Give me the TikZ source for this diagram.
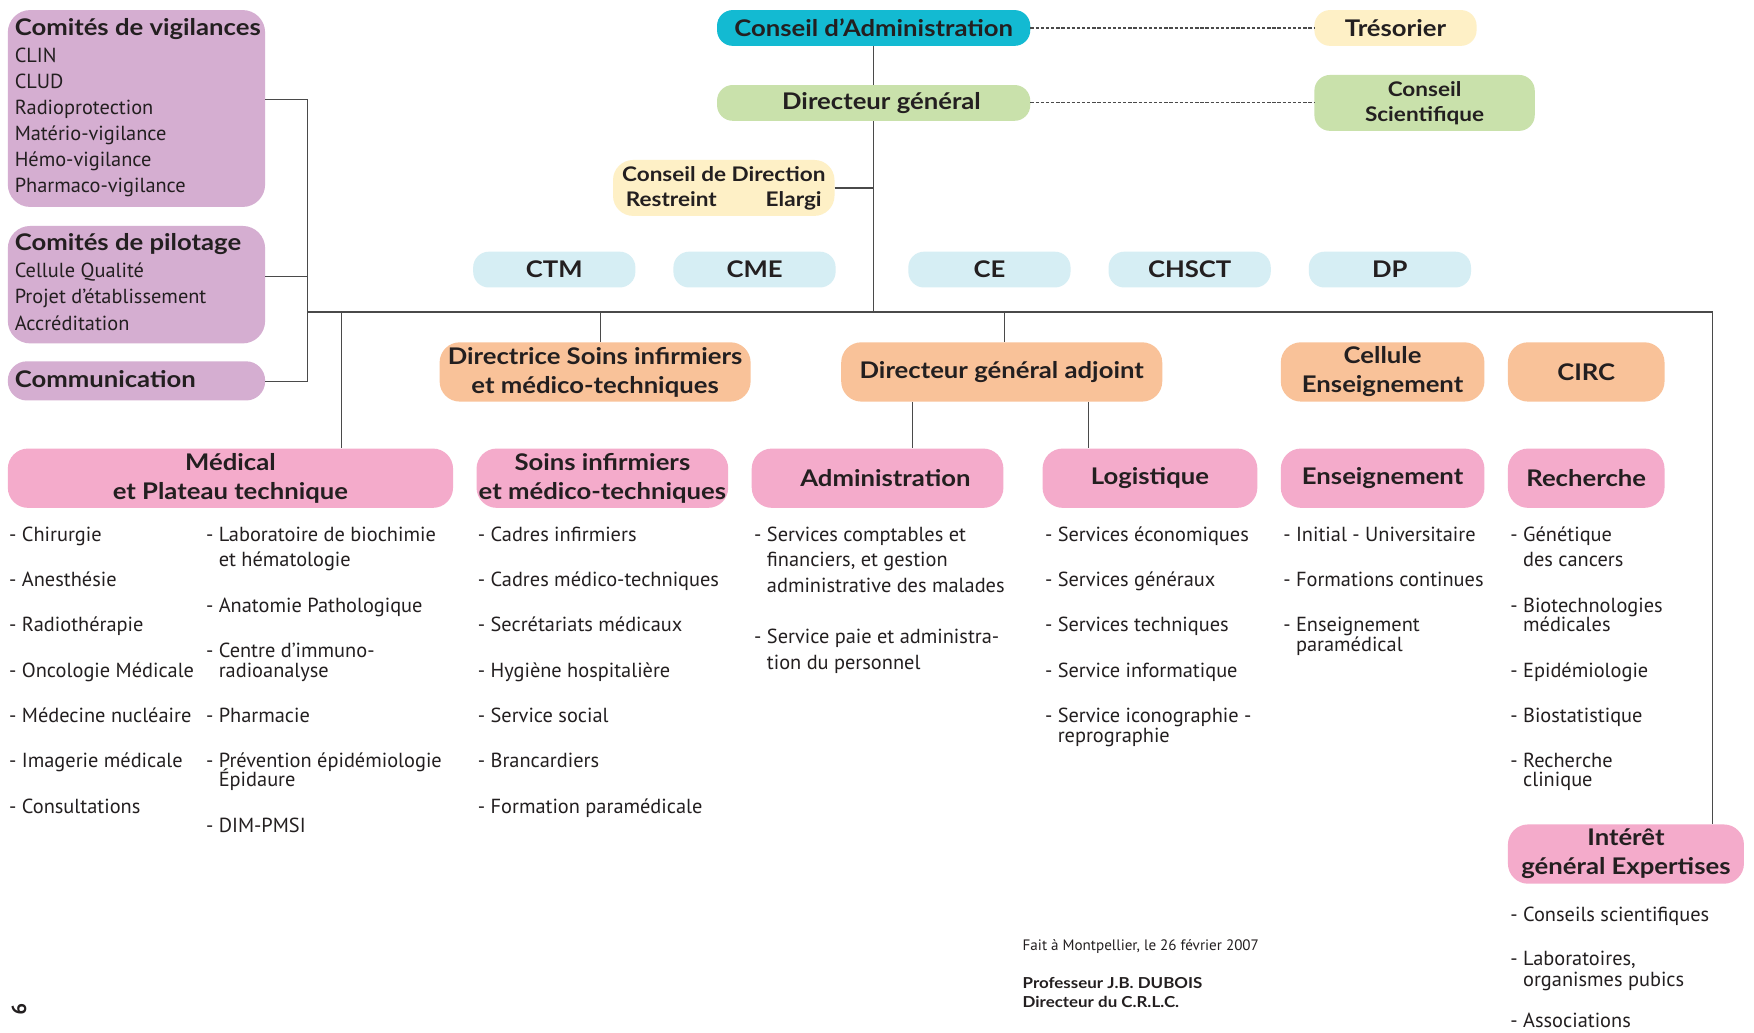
\documentclass[tikz,border=0pt]{standalone}
\usepackage{fontspec}
\setmainfont{PT Sans}
\newfontfamily\boldfam{Lato}[FakeStretch=1.12]
\definecolor{txt}{HTML}{231F20}
\definecolor{cyanbox}{HTML}{13BAD2}
\definecolor{yellowbox}{HTML}{FEF0C6}
\definecolor{greenbox}{HTML}{C9E1AB}
\definecolor{bluebox}{HTML}{D6EEF4}
\definecolor{orangebox}{HTML}{F9C299}
\definecolor{pinkbox}{HTML}{F4ABCB}
\definecolor{mauvebox}{HTML}{D5AED1}
\definecolor{linecol}{HTML}{4A4A4A}
\newcommand\mytitle{\boldfam\fontsize{20.5}{26}\selectfont\bfseries}
\newcommand\mysub{\boldfam\fontsize{18}{22.5}\selectfont\bfseries}
\newcommand\mybody{\fontsize{18.2}{22}\selectfont}
\newcommand\mysmall{\fontsize{13.5}{15}\selectfont}
\newcommand\mysmallbf{\boldfam\fontsize{13.5}{16}\selectfont\bfseries}
\newcommand\contind{\phantom{- }}
\tikzset{
  box/.style={rectangle, rounded corners=14pt, inner sep=0pt, align=center, text=txt, font=\mytitle},
  bigbox/.style={box, rounded corners=18pt, minimum height=53pt},
  smallbox/.style={box, minimum height=32pt},
  mauve/.style={rectangle, rounded corners=20pt, fill=mauvebox, minimum width=230pt, inner sep=0pt},
  item/.style={anchor=mid west, inner sep=0pt, font=\mybody, text=txt, yshift=-4pt},
  mtitle/.style={anchor=mid west, inner sep=0pt, font=\mytitle, text=txt, yshift=-4pt},
  foot/.style={anchor=mid west, inner sep=0pt, text=txt, yshift=-3pt},
  conn/.style={draw=linecol, line width=1.2pt},
  dotline/.style={draw=linecol, line width=1pt, dash pattern=on 3pt off 1.6pt},
}
\begin{document}
\begin{tikzpicture}[x=1pt,y=-1pt]
\useasboundingbox (0,0) rectangle (1568,922.6);
\fill[white] (0,0) rectangle (1568,922.6);

% left mauve boxes
\node[mauve, minimum height=176pt] (comvig) at (122,97) {};
\node[mauve, minimum height=105pt] (compil) at (122,254.5) {};
\node[mauve, minimum height=35pt, rounded corners=17pt] (comm) at (122,340.5) {};
\node[mtitle] (v0) at (13,25) {Comités de vigilances};
\node[item] (v1) at (13,49) {CLIN};
\node[item] (v2) at (13,73) {CLUD};
\node[item] (v3) at (13,96) {Radioprotection};
\node[item] (v4) at (13,119) {Matério-vigilance};
\node[item] (v5) at (13,142) {Hémo-vigilance};
\node[item] (v6) at (13,166) {Pharmaco-vigilance};
\node[mtitle] (p0) at (13,217) {Comités de pilotage};
\node[item] (p1) at (13,242) {Cellule Qualité};
\node[item] (p2) at (13,265) {Projet d'établissement};
\node[item] (p3) at (13,289) {Accréditation};
\node[mtitle] (c0) at (13,340) {Communication};

% top
\node[smallbox, fill=cyanbox, minimum width=280pt] (ca) at (781,25) {Conseil d’Administration};
\node[smallbox, fill=yellowbox, minimum width=145pt] (tres) at (1247.5,25) {Trésorier};
\node[smallbox, fill=greenbox, minimum width=280pt] (dg) at (781,92) {\hspace*{14pt}Directeur général};
\node[box, fill=greenbox, minimum width=197pt, minimum height=50pt, font=\mysub] (cs) at (1273.5,92) {Conseil\\Scientifique};
\node[box, fill=yellowbox, minimum width=198pt, minimum height=50pt, rounded corners=18pt, font=\mysub] (cd) at (647,168) {Conseil de Direction\\\makebox[175pt]{Restreint\hfill Elargi}};

% committees
\node[smallbox, fill=bluebox, minimum width=145pt] (ctm) at (495.5,241) {CTM};
\node[smallbox, fill=bluebox, minimum width=145pt] (cme) at (674.5,241) {CME};
\node[smallbox, fill=bluebox, minimum width=145pt] (ce) at (884.5,241) {CE};
\node[smallbox, fill=bluebox, minimum width=145pt] (chsct) at (1063.5,241) {CHSCT};
\node[smallbox, fill=bluebox, minimum width=145pt] (dp) at (1242.5,241) {DP};

% orange row
\node[bigbox, fill=orangebox, minimum width=278pt] (directrice) at (532,332.5) {Directrice Soins infirmiers\\et médico-techniques};
\node[bigbox, fill=orangebox, minimum width=287pt] (dga) at (895.5,332.5) {Directeur général adjoint};
\node[bigbox, fill=orangebox, minimum width=182pt] (cellule) at (1236,332.5) {Cellule\\Enseignement};
\node[bigbox, fill=orangebox, minimum width=140pt] (circ) at (1418,332.5) {CIRC};

% pink row
\node[bigbox, fill=pinkbox, minimum width=398pt] (medical) at (206,427.5) {Médical\\et Plateau technique};
\node[bigbox, fill=pinkbox, minimum width=225pt] (soins) at (538.5,427.5) {Soins infirmiers\\et médico-techniques};
\node[bigbox, fill=pinkbox, minimum width=225pt] (admin) at (784.5,427.5) {\hspace*{14pt}Administration};
\node[bigbox, fill=pinkbox, minimum width=192pt] (logis) at (1028,427.5) {Logistique};
\node[bigbox, fill=pinkbox, minimum width=182pt] (enseig) at (1236,427.5) {Enseignement};
\node[bigbox, fill=pinkbox, minimum width=140pt] (rech) at (1418,427.5) {Recherche};
\node[bigbox, fill=pinkbox, minimum width=211pt] (interet) at (1453.5,763.5) {Intérêt\\général Expertises};

% connectors
\coordinate (jmain) at (781,279);
\coordinate (jl) at (275,279);
\coordinate (jr) at (1531,279);
\coordinate (jmed) at (305,279);
\coordinate (jdir) at (537,279);
\coordinate (jdga) at (898,279);
\coordinate (jadm) at (816,0);
\coordinate (jlog) at (973,0);
\coordinate (b1) at (275,89);
\coordinate (b2) at (275,247);
\coordinate (b3) at (275,341);
\draw[conn] (ca.south) -- (dg.north);
\draw[conn] (dg.south) -- (jmain);
\draw[conn] (cd.east) -- (cd.east -| jmain);
\draw[conn] (jl) -- (jr) -- (jr |- interet.north);
\draw[conn] (jmed) -- (jmed |- medical.north);
\draw[conn] (jdir) -- (jdir |- directrice.north);
\draw[conn] (jdga) -- (jdga |- dga.north);
\draw[conn] (dga.south -| jadm) -- (admin.north -| jadm);
\draw[conn] (dga.south -| jlog) -- (logis.north -| jlog);
\draw[conn] (comvig.east |- b1) -- (b1) -- (b3) -- (comm.east |- b3);
\draw[conn] (compil.east |- b2) -- (b2);
\draw[dotline] (ca.east) -- (tres.west);
\draw[dotline] (dg.east) -- (cs.west);

% Medical column 1
\node[item] (m1) at (8,478) {- Chirurgie};
\node[item] (m2) at (8,518) {- Anesthésie};
\node[item] (m3) at (8,558) {- Radiothérapie};
\node[item] (m4) at (8,599) {- Oncologie Médicale};
\node[item] (m5) at (8,639) {- Médecine nucléaire};
\node[item] (m6) at (8,680) {- Imagerie médicale};
\node[item] (m7) at (8,721) {- Consultations};
% Medical column 2
\node[item] (n1) at (184,478) {- Laboratoire de biochimie};
\node[item] (n1b) at (184,500) {\contind et hématologie};
\node[item] (n2) at (184,541) {- Anatomie Pathologique};
\node[item] (n3) at (184,581) {- Centre d’immuno-};
\node[item] (n3b) at (184,599) {\contind radioanalyse};
\node[item] (n4) at (184,639) {- Pharmacie};
\node[item] (n5) at (184,680) {- Prévention épidémiologie};
\node[item] (n5b) at (184,697) {\contind Épidaure};
\node[item] (n6) at (184,738) {- DIM-PMSI};
% Soins
\node[item] (s1) at (427,478) {- Cadres infirmiers};
\node[item] (s2) at (427,518) {- Cadres médico-techniques};
\node[item] (s3) at (427,558) {- Secrétariats médicaux};
\node[item] (s4) at (427,599) {- Hygiène hospitalière};
\node[item] (s5) at (427,639) {- Service social};
\node[item] (s6) at (427,680) {- Brancardiers};
\node[item] (s7) at (427,721) {- Formation paramédicale};
% Administration
\node[item] (a1) at (674,478) {- Services comptables et};
\node[item] (a1b) at (674,500) {\contind financiers, et gestion};
\node[item] (a1c) at (674,523) {\contind administrative des malades};
\node[item] (a2) at (674,569) {- Service paie et administra-};
\node[item] (a2b) at (674,592) {\contind tion du personnel};
% Logistique
\node[item] (l1) at (934,478) {- Services économiques};
\node[item] (l2) at (934,518) {- Services généraux};
\node[item] (l3) at (934,558) {- Services techniques};
\node[item] (l4) at (934,599) {- Service informatique};
\node[item] (l5) at (934,639) {- Service iconographie -};
\node[item] (l5b) at (934,657) {\contind reprographie};
% Enseignement
\node[item] (e1) at (1147,478) {- Initial - Universitaire};
\node[item] (e2) at (1147,518) {- Formations continues};
\node[item] (e3) at (1147,558) {- Enseignement};
\node[item] (e3b) at (1147,576) {\contind paramédical};
% Recherche
\node[item] (r1) at (1350,478) {- Génétique};
\node[item] (r1b) at (1350,500) {\contind des cancers};
\node[item] (r2) at (1350,541) {- Biotechnologies};
\node[item] (r2b) at (1350,558) {\contind médicales};
\node[item] (r3) at (1350,599) {- Epidémiologie};
\node[item] (r4) at (1350,639) {- Biostatistique};
\node[item] (r5) at (1350,680) {- Recherche};
\node[item] (r5b) at (1350,697) {\contind clinique};
% Interet
\node[item] (i1) at (1350,817) {- Conseils scientifiques};
\node[item] (i2) at (1350,857) {- Laboratoires,};
\node[item] (i2b) at (1350,875) {\contind organismes pubics};
\node[item] (i3) at (1350,912) {- Associations};

% footer
\node[foot, font=\mysmall] (f1) at (914,844) {Fait à Montpellier, le 26 février 2007};
\node[foot, font=\mysmallbf] (f2) at (914,878) {Professeur J.B. DUBOIS};
\node[foot, font=\mysmallbf] (f3) at (914,895) {Directeur du C.R.L.C.};
\node[inner sep=0pt, font=\mybody\bfseries, text=txt, rotate=-90] (pg) at (17,902) {9};
\end{tikzpicture}
\end{document}
